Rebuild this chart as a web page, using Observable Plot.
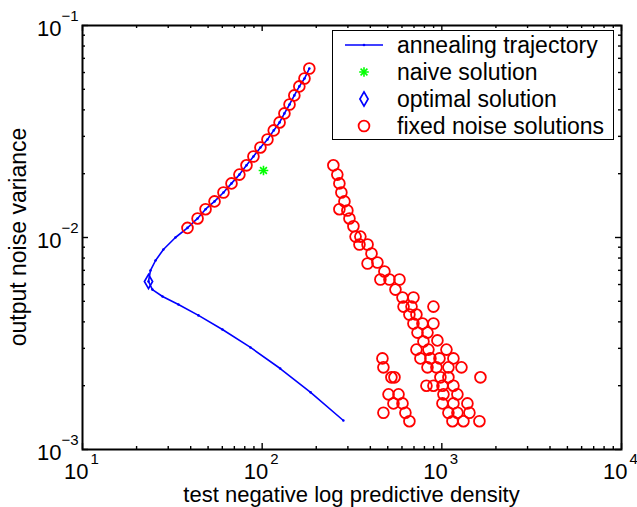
<!DOCTYPE html>
<html>
<head>
<meta charset="utf-8">
<script src="https://cdn.jsdelivr.net/npm/d3@7"></script>
<script src="https://cdn.jsdelivr.net/npm/@observablehq/plot@0.6"></script>
<style>
  html, body { margin: 0; padding: 0; background: #fff; }
  #chart svg { display: block; }
</style>
</head>
<body>
<div id="chart"></div>
<script>
// Annealing trajectory: noise variance vs. test negative log predictive density
const trajX = [183, 172, 161, 151, 142, 133, 125, 116, 107, 97.8, 89.4, 81.8, 74.7, 67.5, 60.9, 54.3, 48.4, 43.7, 38.4,
               32.9, 28.2, 25.5, 23.9, 23.3, 24.5, 27.9, 34.2, 44.2, 60.1, 86.1, 126, 186, 283];
const trajY = [0.0627, 0.0562, 0.0516, 0.0468, 0.0424, 0.0385, 0.0349, 0.0320, 0.0290, 0.0266, 0.0241, 0.0219, 0.0198,
               0.0180, 0.0163, 0.0148, 0.0136, 0.0123, 0.0111,
               0.0100, 0.00878, 0.00779, 0.00699, 0.00620, 0.00568, 0.00527, 0.00483, 0.00429, 0.00368, 0.00303,
               0.00241, 0.00186, 0.00137];

// Naive solution
const naiveX = [101.7];
const naiveY = [0.0207];

// Optimal solution
const optimalX = [23.3];
const optimalY = [0.0062];

// Fixed noise solutions
const fixedX = [183, 172, 161, 151, 142, 133, 125, 116, 107, 97.8, 89.4, 81.8, 74.7, 67.5, 60.9, 54.3, 48.4, 43.7, 38.4,
  249, 262, 269, 276, 287, 269, 298, 306, 322, 331, 352, 348, 386, 406, 386, 438, 479,
  455, 511, 581, 552, 604, 695, 612, 678, 898, 660, 722, 695, 780, 898, 732, 832, 945, 790,
  722, 842, 1061, 760, 864, 970, 1160, 832, 933, 1088, 1286, 982, 1088, 1640,
  821, 898, 1008, 1160, 1021, 1221, 1008, 1160, 1388, 1088, 1221, 1424, 1146, 1319, 1619,
  467, 473, 524, 545, 505, 574, 538, 604, 473, 627, 660];
const fixedY = [0.0627, 0.0562, 0.0516, 0.0468, 0.0424, 0.0385, 0.0349, 0.0320, 0.0290, 0.0266, 0.0241, 0.0219, 0.0198,
  0.0180, 0.0163, 0.0148, 0.0136, 0.0123, 0.0111,
  0.0219, 0.0198, 0.0180, 0.0163, 0.0148, 0.0136, 0.0134, 0.0123, 0.0113, 0.0101, 0.0101, 0.00927, 0.00927,
  0.00841, 0.00754, 0.00762, 0.00691,
  0.00634, 0.00634, 0.00634, 0.00568, 0.00521, 0.00521, 0.00472, 0.00472, 0.00472, 0.00433, 0.00433, 0.00393,
  0.00393, 0.00393, 0.00356, 0.00356, 0.00327, 0.00323,
  0.00296, 0.00296, 0.00296, 0.00269, 0.00269, 0.00269, 0.00269, 0.00244, 0.00244, 0.00244, 0.00244,
  0.00219, 0.00219, 0.00219,
  0.00200, 0.00200, 0.00200, 0.00200, 0.00182, 0.00182, 0.00165, 0.00165, 0.00165, 0.00149, 0.00149, 0.00149,
  0.00136, 0.00136, 0.00136,
  0.00269, 0.00244, 0.00219, 0.00219, 0.00182, 0.00182, 0.00165, 0.00165, 0.00149, 0.00149, 0.00136];

// Axis ticks
const xMajor = [10, 100, 1000, 10000];
const yMajor = [0.001, 0.01, 0.1];
const xMinor = d3.range(1, 4).flatMap(e => d3.range(2, 10).map(k => k * 10 ** e));
const yMinor = d3.range(-3, -1).flatMap(e => d3.range(2, 10).map(k => +(k * 10 ** e).toPrecision(3)));

const labelX = "test negative log predictive density";
const labelY = "output noise variance";
const legendLabels = ["annealing trajectory", "naive solution", "optimal solution", "fixed noise solutions"];

const BLUE = "#0000ff", RED = "#ff0000", GREEN = "#00ff00";
const FONT = "'Liberation Sans', Arial, Helvetica, sans-serif";

const W = 637, H = 507;
const M = {top: 25, right: 16, bottom: 58, left: 82};
const FW = W - M.left - M.right, FH = H - M.top - M.bottom;
const MAJ = 6, MIN = 3;

const traj = trajX.map((x, i) => ({x, y: trajY[i]}));
const naive = naiveX.map((x, i) => ({x, y: naiveY[i]}));
const optimal = optimalX.map((x, i) => ({x, y: optimalY[i]}));
const fixed = fixedX.map((x, i) => ({x, y: fixedY[i]}));
const exp10 = d => String(Math.round(Math.log10(d))).replace("-", "\u2212");

const chart = Plot.plot({
  width: W, height: H,
  marginTop: M.top, marginRight: M.right, marginBottom: M.bottom, marginLeft: M.left,
  x: {type: "log", domain: [10, 10000], axis: null},
  y: {type: "log", domain: [0.001, 0.1], axis: null},
  style: {fontFamily: FONT, background: "#fff", color: "#000", overflow: "visible"},
  marks: [
    // inward ticks on all four sides
    Plot.ruleX(xMajor, {x: d => d, insetTop: FH - MAJ, stroke: "#000", strokeWidth: 1.4}),
    Plot.ruleX(xMajor, {x: d => d, insetBottom: FH - MAJ, stroke: "#000", strokeWidth: 1.4}),
    Plot.ruleX(xMinor, {x: d => d, insetTop: FH - MIN, stroke: "#000", strokeWidth: 1.4}),
    Plot.ruleX(xMinor, {x: d => d, insetBottom: FH - MIN, stroke: "#000", strokeWidth: 1.4}),
    Plot.ruleY(yMajor, {y: d => d, insetRight: FW - MAJ, stroke: "#000", strokeWidth: 1.4}),
    Plot.ruleY(yMajor, {y: d => d, insetLeft: FW - MAJ, stroke: "#000", strokeWidth: 1.4}),
    Plot.ruleY(yMinor, {y: d => d, insetRight: FW - MIN, stroke: "#000", strokeWidth: 1.4}),
    Plot.ruleY(yMinor, {y: d => d, insetLeft: FW - MIN, stroke: "#000", strokeWidth: 1.4}),
    // tick labels: base "10" with a superscript exponent
    Plot.text(xMajor, {x: d => d, frameAnchor: "bottom", text: () => "10", textAnchor: "end", lineAnchor: "bottom",
      dx: 6, dy: 29, fontSize: 22, fill: "#000"}),
    Plot.text(xMajor, {x: d => d, frameAnchor: "bottom", text: exp10, textAnchor: "start", lineAnchor: "bottom",
      dx: 8, dy: 14, fontSize: 15, fill: "#000"}),
    Plot.text(yMajor, {y: d => d, frameAnchor: "left", text: () => "10", textAnchor: "end", lineAnchor: "bottom",
      dx: -21, dy: 10, fontSize: 22, fill: "#000"}),
    Plot.text(yMajor, {y: d => d, frameAnchor: "left", text: exp10, textAnchor: "end", lineAnchor: "bottom",
      dx: -4, dy: -5, fontSize: 15, fill: "#000"}),
    // annealing trajectory
    Plot.line(traj, {x: "x", y: "y", stroke: BLUE, strokeWidth: 1.6}),
    Plot.dot(traj, {x: "x", y: "y", r: 1.3, fill: BLUE}),
    // naive solution
    Plot.dot(naive, {x: "x", y: "y", symbol: "plus", r: 3.2, stroke: GREEN, strokeWidth: 1.6}),
    Plot.dot(naive, {x: "x", y: "y", symbol: "times", r: 3.2, stroke: GREEN, strokeWidth: 1.6}),
    // optimal solution
    Plot.dot(optimal, {x: "x", y: "y", symbol: "diamond", r: 4.3, stroke: BLUE, strokeWidth: 1.7, fill: "none"}),
    // fixed noise solutions
    Plot.dot(fixed, {x: "x", y: "y", r: 5.4, stroke: RED, strokeWidth: 1.8, fill: "none"}),
    Plot.frame({stroke: "#000", strokeWidth: 2})
  ]
});

document.getElementById("chart").appendChild(chart);

// axis titles and legend
const svg = d3.select(chart);
svg.append("text")
  .attr("x", M.left + FW / 2).attr("y", 502)
  .attr("text-anchor", "middle").attr("font-family", FONT).attr("font-size", 22).attr("fill", "#000")
  .text(labelX);
svg.append("text")
  .attr("transform", `translate(26,${M.top + FH / 2}) rotate(-90)`)
  .attr("text-anchor", "middle").attr("font-family", FONT).attr("font-size", 23).attr("fill", "#000")
  .text(labelY);

const lg = svg.append("g").attr("font-family", FONT).attr("font-size", 23).attr("text-anchor", "start");
lg.append("rect").attr("x", 332.5).attr("y", 30.5).attr("width", 281).attr("height", 109)
  .attr("fill", "#fff").attr("stroke", "#000").attr("stroke-width", 1);
const rowY = [45, 72, 99, 126];
const mx = 364;
lg.append("line").attr("x1", 345).attr("x2", 383).attr("y1", rowY[0]).attr("y2", rowY[0])
  .attr("stroke", BLUE).attr("stroke-width", 1.6);
lg.append("circle").attr("cx", mx).attr("cy", rowY[0]).attr("r", 1.3).attr("fill", BLUE);
[d3.symbolPlus, d3.symbolTimes].forEach(t =>
  lg.append("path").attr("d", d3.symbol(t, Math.PI * 3.2 * 3.2)())
    .attr("transform", `translate(${mx},${rowY[1]})`).attr("fill", "none").attr("stroke", GREEN).attr("stroke-width", 1.6));
lg.append("path").attr("d", d3.symbol(d3.symbolDiamond, Math.PI * 4.3 * 4.3)())
  .attr("transform", `translate(${mx},${rowY[2]})`).attr("fill", "none").attr("stroke", BLUE).attr("stroke-width", 1.7);
lg.append("circle").attr("cx", mx).attr("cy", rowY[3]).attr("r", 5.4)
  .attr("fill", "none").attr("stroke", RED).attr("stroke-width", 1.8);
legendLabels.forEach((t, i) =>
  lg.append("text").attr("x", 397).attr("y", rowY[i]).attr("dy", "0.35em").attr("fill", "#000").text(t));
</script>
</body>
</html>
